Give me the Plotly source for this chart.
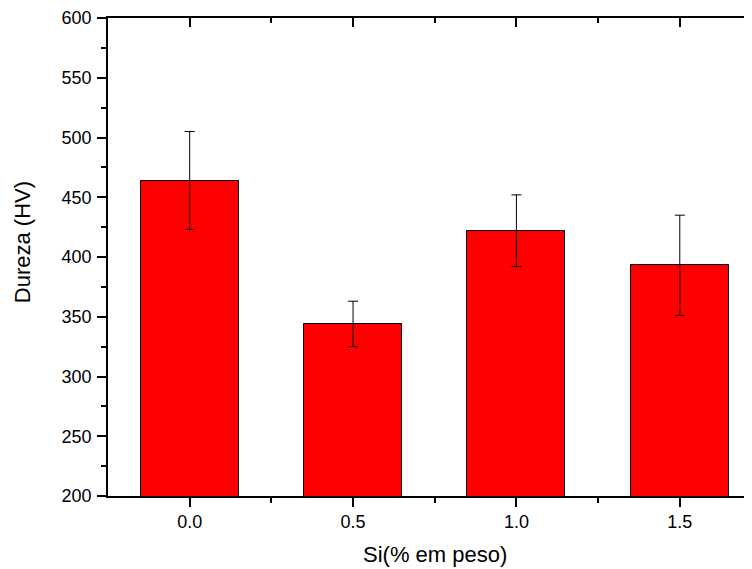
import plotly.graph_objects as go

si = [0.0, 0.5, 1.0, 1.5]
dureza = [464, 344, 422, 393]
erro = [41, 19, 30, 42]
tick_labels = ["0.0", "0.5", "1.0", "1.5"]
y_ticks = [200, 250, 300, 350, 400, 450, 500, 550, 600]

FONT = "Arial, Liberation Sans, sans-serif"

fig = go.Figure()
fig.add_trace(go.Bar(
    x=si, y=dureza, width=0.3,
    marker=dict(color="#ff0000", line=dict(color="black", width=1)),
    error_y=dict(type="data", array=erro, visible=True, color="black", thickness=1, width=5),
    showlegend=False,
))
fig.add_trace(go.Scatter(x=si, y=dureza, xaxis="x2", mode="markers",
                         marker=dict(opacity=0), showlegend=False, hoverinfo="skip"))

xr = [-0.25, 1.721]
minor_x = [0.25, 0.75, 1.25]
fig.update_layout(
    width=744, height=561,
    margin=dict(l=100, r=0, t=8, b=73),
    paper_bgcolor="white", plot_bgcolor="white",
    font=dict(family=FONT, color="black"),
    xaxis=dict(
        range=xr, tickvals=si, ticktext=tick_labels,
        ticks="outside", ticklen=9, tickwidth=1.5, tickcolor="black",
        showline=True, linecolor="black", linewidth=1.5,
        showgrid=False, zeroline=False,
        tickfont=dict(size=18), ticklabelstandoff=0,
        minor=dict(tickvals=minor_x, ticks="outside", ticklen=5, tickwidth=1.5, tickcolor="black", showgrid=False),
    ),
    xaxis2=dict(
        overlaying="x", side="top", range=xr, tickvals=si,
        showticklabels=False, ticks="inside", ticklen=9, tickwidth=1.5, tickcolor="black",
        showline=True, linecolor="black", linewidth=1.5, showgrid=False, zeroline=False,
        minor=dict(tickvals=minor_x, ticks="inside", ticklen=5, tickwidth=1.5, tickcolor="black", showgrid=False),
    ),
    yaxis=dict(
        range=[200, 600], tickvals=y_ticks,
        ticks="outside", ticklen=9, tickwidth=1.5, tickcolor="black",
        showline=True, linecolor="black", linewidth=1.5,
        showgrid=False, zeroline=False,
        tickfont=dict(size=18), ticklabelstandoff=2, ticklabeloverflow="allow",
        minor=dict(dtick=25, tick0=225, ticks="outside", ticklen=5, tickwidth=1.5, tickcolor="black", showgrid=False),
    ),
    bargap=0,
    annotations=[
        dict(text="Si(% em peso)", xref="paper", yref="paper", x=0.508, y=-0.123,
             xanchor="center", yanchor="middle", showarrow=False, font=dict(size=22)),
        dict(text="Dureza (HV)", xref="paper", yref="paper", x=-0.1335, y=0.531,
             xanchor="center", yanchor="middle", textangle=-90, showarrow=False, font=dict(size=22)),
    ],
)

fig.write_html("out.html")
